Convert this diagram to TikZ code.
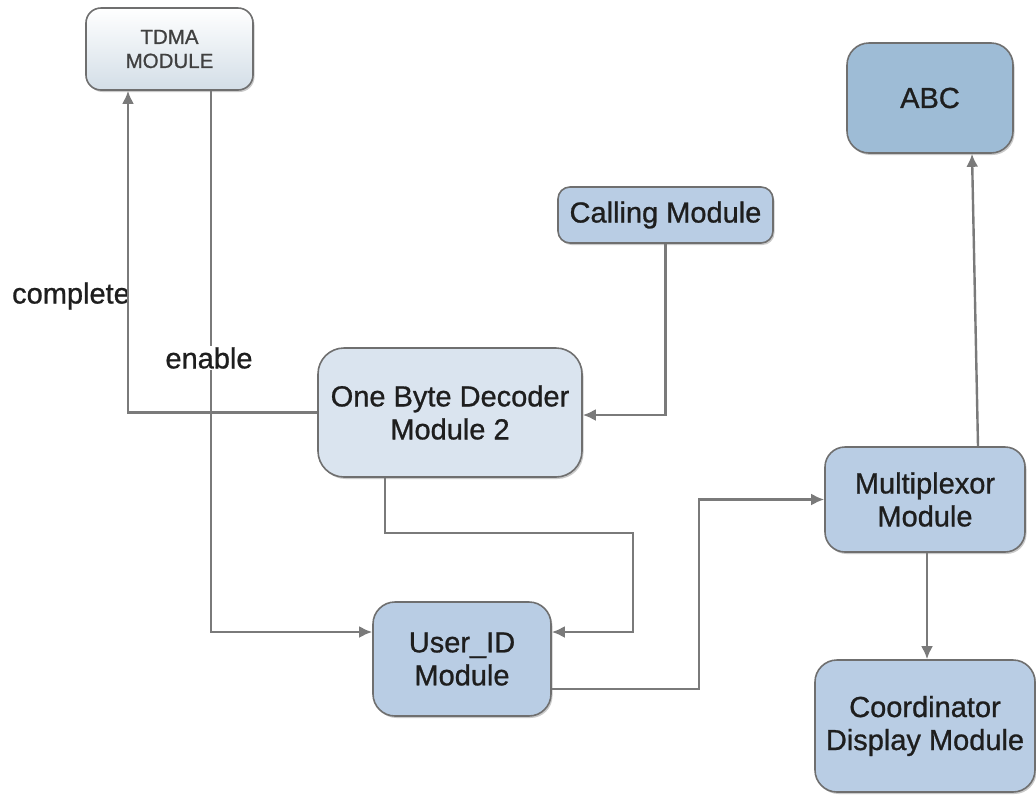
\documentclass[tikz,border=0pt]{standalone}
\usepackage{fontspec}
\setmainfont[FakeBold=0.9]{Liberation Sans}
\usetikzlibrary{arrows.meta,shadows}
\definecolor{boxblue}{HTML}{B9CDE4}
\definecolor{boxpale}{HTML}{DAE4EF}
\definecolor{boxdeep}{HTML}{9EBCD6}
\definecolor{tdmabot}{HTML}{D3DEE7}
\definecolor{edgegray}{HTML}{6F6F6F}
\definecolor{linegray}{HTML}{7A7A7A}
\definecolor{textdark}{HTML}{1E1E1E}
\begin{document}
\begin{tikzpicture}[x=1pt,y=-1pt,
  block/.style={draw=edgegray, line width=1.6pt, rounded corners=#1,
    fill=boxblue, text=textdark, align=center, inner sep=0pt,
    font=\fontsize{29}{33}\selectfont,
    drop shadow={shadow xshift=1.5pt, shadow yshift=-2pt, opacity=0.35, fill=black!60}},
  block/.default=20pt,
  conn/.style={draw=linegray, line width=2.4pt},
  arr/.style={conn, -{Latex[length=13pt,width=12pt]}},
  lbl/.style={text=textdark, font=\fontsize{29}{33}\selectfont, inner sep=1pt}]
\useasboundingbox (0,0) rectangle (1036,796);

% modules
\node[block=15pt, top color=white, bottom color=tdmabot,
      minimum width=167pt, minimum height=82pt,
      font=\fontsize{20.5}{24}\selectfont, text=black!75]
      (tdma) at (169.5,49) {TDMA\\MODULE};
\node[block=22pt, fill=boxdeep, minimum width=166pt, minimum height=110pt]
      (abc) at (930,98) {ABC};
\node[block=12pt, minimum width=215pt, minimum height=56pt]
      (call) at (665.5,215) {Calling Module};
\node[block=26pt, fill=boxpale, minimum width=264pt, minimum height=129pt]
      (dec) at (450,412.5) {One Byte Decoder\\Module 2};
\node[block=20pt, minimum width=200pt, minimum height=105pt]
      (mux) at (925,499.5) {Multiplexor\\Module};
\node[block=22pt, minimum width=178pt, minimum height=114pt]
      (uid) at (462,659) {User\_ID\\Module};
\node[block=22pt, minimum width=220pt, minimum height=132pt]
      (coord) at (925,726) {Coordinator\\Display Module};

% bend points
\coordinate (k1) at (633,533);
\coordinate (k2) at (699,499.5);

% signal lines
\node[lbl] (lcomplete) at (71,296) {complete};
\draw[arr] (dec.west) -| ([xshift=-41.5pt]tdma.south);
\draw[arr] ([xshift=41.5pt]tdma.south) |- ([yshift=27pt]uid.west);
\node[lbl, fill=white] (lenable) at (209,358) {enable};
\draw[arr] (call.south) |- ([yshift=-2.5pt]dec.east);
\draw[arr] ([xshift=-65pt]dec.south) |- (k1) |- ([yshift=27pt]uid.east);
\draw[arr] ([yshift=-30pt]uid.east) -| (k2) -- (mux.west);
\draw[arr] ([xshift=53pt]mux.north) -- ([xshift=42pt]abc.south);
\draw[arr] ([xshift=2pt]mux.south) -- ([xshift=2pt]coord.north);
\end{tikzpicture}
\end{document}
